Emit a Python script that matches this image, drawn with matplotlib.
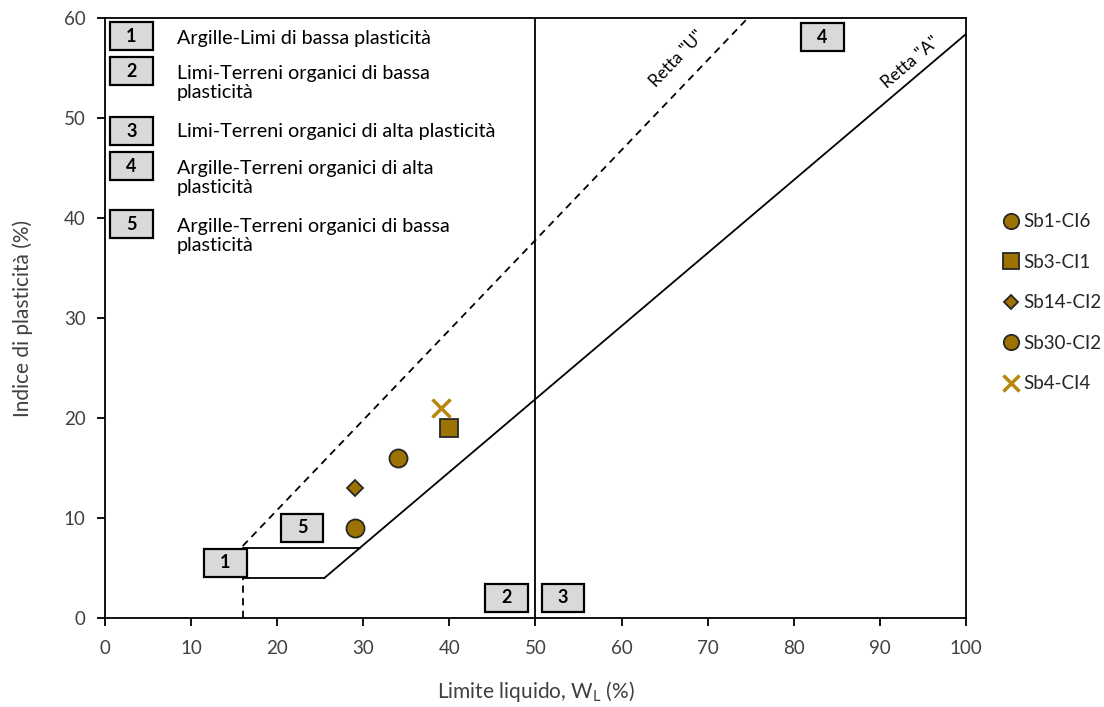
import matplotlib
matplotlib.use("Agg")
import matplotlib.pyplot as plt
from matplotlib.patches import Rectangle
import numpy as np

plt.rcParams['font.family'] = ['Lato', 'DejaVu Sans']

# Samples: liquid limit (%) and plasticity index (%)
samples = ["Sb1-CI6", "Sb3-CI1", "Sb14-CI2", "Sb30-CI2", "Sb4-CI4"]
wl = [29, 40, 29, 34, 39]
ip = [9, 19, 13, 16, 21]
markers = ["o", "s", "D", "o", "x"]
sizes = [13, 13, 8.5, 13, 13]

zone_labels = ["Argille-Limi di bassa plasticità",
               "Limi-Terreni organici di bassa\nplasticità",
               "Limi-Terreni organici di alta plasticità",
               "Argille-Terreni organici di alta\nplasticità",
               "Argille-Terreni organici di bassa\nplasticità"]

x_ticks = list(range(0, 101, 10))
y_ticks = list(range(0, 61, 10))

fill = "#9C7300"
cross = "#B8860B"
label_col = "#404040"

fig = plt.figure(figsize=(11.04, 7.07), dpi=100)
ax = fig.add_axes([0.0951, 0.1259, 0.7799, 0.8486])
ax.set_xlim(0, 100)
ax.set_ylim(0, 60)

# Casagrande chart lines
xa = np.array([25.48, 100])
ax.plot(xa, 0.73 * (xa - 20), color="black", lw=1.3)
xu = np.array([16, 74.67])
ax.plot(xu, 0.9 * (xu - 8), color="black", lw=1.3, ls=(0, (4, 3)))
ax.plot([16, 16], [0, 4], color="black", lw=1.3, ls=(0, (4, 3)))
ax.plot([16, 25.48], [4, 4], color="black", lw=1.3)
ax.plot([16, 7 / 0.73 + 20], [7, 7], color="black", lw=1.3)
ax.plot([50, 50], [0, 60], color="black", lw=1.3)

ax.text(66.4, 55.9, 'Retta "U"', rotation=46.3, ha="center", va="center",
        fontsize=12.5, rotation_mode="anchor")
ax.text(93.6, 55.6, 'Retta "A"', rotation=40.3, ha="center", va="center",
        fontsize=12.5, rotation_mode="anchor")

def numbox(cx, cy, num):
    w, h = 4.95, 2.8
    ax.add_patch(Rectangle((cx - w / 2, cy - h / 2), w, h, facecolor="#D9D9D9",
                           edgecolor="black", lw=1.6, zorder=4))
    ax.text(cx, cy, num, ha="center", va="center", fontsize=13,
            fontweight="bold", zorder=5)

# zone numbers inside the chart
numbox(14.0, 5.5, "1")
numbox(46.6, 2.0, "2")
numbox(53.2, 2.0, "3")
numbox(83.3, 58.1, "4")
numbox(22.9, 9.0, "5")

# zone key in the upper left corner
key_y = [58.2, 54.7, 48.7, 45.2, 39.4]
text_y = [58.0, 53.5, 48.7, 44.0, 38.2]
for i, (ky, ty, lab) in enumerate(zip(key_y, text_y, zone_labels)):
    numbox(3.08, ky, str(i + 1))
    ax.text(8.35, ty, lab, ha="left", va="center", fontsize=14.2,
            linespacing=1.2)

handles = []
for s, x, y, m, ms in zip(samples, wl, ip, markers, sizes):
    if m == "x":
        h, = ax.plot([x], [y], ls="none", marker=m, ms=ms, mew=2.5,
                     color=cross, label=s, zorder=6)
    else:
        h, = ax.plot([x], [y], ls="none", marker=m, ms=ms, mfc=fill,
                     mec="#262626", mew=1.3, label=s, zorder=6)
    handles.append(h)

leg = ax.legend(handles=handles, loc="upper left",
                bbox_to_anchor=(0.8935, 0.722), bbox_transform=fig.transFigure,
                frameon=False, fontsize=13.5, labelspacing=1.25, handlelength=0.8,
                handletextpad=0.25, markerscale=0.85)
for t in leg.get_texts():
    t.set_color("#262626")

ax.set_xticks(x_ticks)
ax.set_yticks(y_ticks)
ax.tick_params(labelsize=13.5, length=6, width=1.3, direction="out",
               labelcolor=label_col)
ax.tick_params(axis="x", pad=10)
ax.tick_params(axis="y", pad=8)
for sp in ax.spines.values():
    sp.set_linewidth(1.3)

ax.set_xlabel(r"Limite liquido, W$_\mathregular{L}$ (%)", fontsize=15,
              labelpad=16, color=label_col)
ax.set_ylabel("Indice di plasticità (%)", fontsize=15, labelpad=22,
              color=label_col)

fig.savefig("out.png", dpi=100)
